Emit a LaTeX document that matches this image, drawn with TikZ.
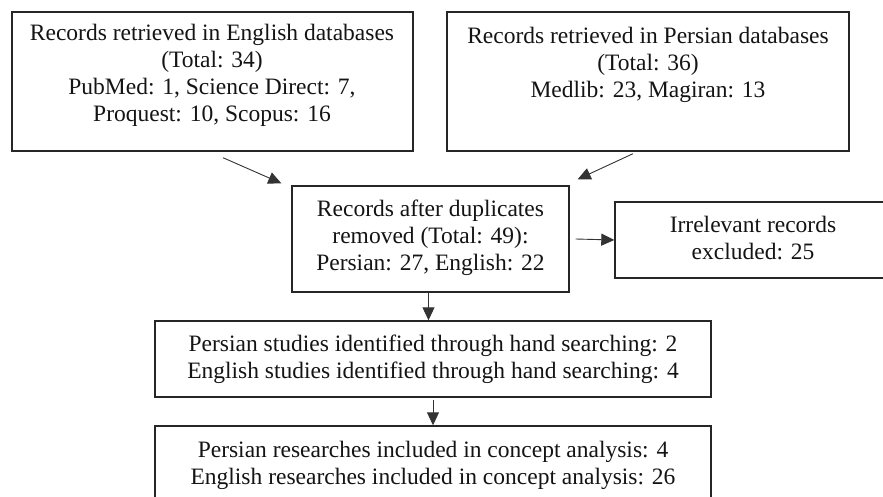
\documentclass[tikz,border=0pt]{standalone}
\usepackage{fontspec}
\setmainfont{Liberation Serif}
\usetikzlibrary{arrows.meta}
\begin{document}
\begin{tikzpicture}[x=1pt,y=-1pt,
  box/.style={draw=black!85, line width=1.4pt, inner sep=0pt},
  txt/.style={align=center, inner sep=0pt, font=\fontsize{23.5}{27}\selectfont, text=black!92},
  arr/.style={draw=black!80, line width=0.9pt, -{Triangle[length=13pt,width=12pt]}}]
\useasboundingbox (0,0) rectangle (883,497);
\clip (0,0) rectangle (883,497);
\fill[white] (0,0) rectangle (883,497);

% boxes
\node[box, minimum width=401pt, minimum height=139pt] (eng) at (212.5,81.5) {};
\node[box, minimum width=402pt, minimum height=139pt] (per) at (648,81.5) {};
\node[box, minimum width=277pt, minimum height=106pt] (dup) at (430.5,239) {};
\node[box, minimum width=400pt, minimum height=76pt] (irr) at (815,240) {};
\node[box, minimum width=556pt, minimum height=76pt] (hand) at (433,359) {};
\node[box, minimum width=556pt, minimum height=76pt] (incl) at (433,464) {};

% texts
\node[txt] (engt) at (212,75.5) {Records retrieved in English databases\\(Total: 34)\\PubMed: 1, Science Direct: 7,\\Proquest: 10, Scopus: 16};
\node[txt] (pert) at (648,65) {Records retrieved in Persian databases\\(Total: 36)\\Medlib: 23, Magiran: 13};
\node[txt] (dupt) at (430.5,238) {Records after duplicates\\removed (Total: 49):\\Persian: 27, English: 22};
\node[txt] (irrt) at (753,238.5) {Irrelevant records\\excluded: 25};
\node[txt] (handt) at (433,359.5) {Persian studies identified through hand searching: 2\\English studies identified through hand searching: 4};
\node[txt] (inclt) at (433,465.5) {Persian researches included in concept analysis: 4\\English researches included in concept analysis: 26};

% connectors
\draw[arr] ([xshift=10.5pt,yshift=-6pt]eng.south) -- ([xshift=-10pt,yshift=2pt]dup.north west);
\draw[arr] ([xshift=-15pt,yshift=-2pt]per.south) -- ([xshift=8pt,yshift=6pt]dup.north east);
\draw[arr] ([xshift=6pt]dup.east) -- (irr.west);
\draw[arr] ([xshift=-2pt]dup.south) -- ([xshift=-2pt]dup.south |- hand.north);
\draw[arr] ([yshift=-2pt]hand.south) -- (incl.north);
\end{tikzpicture}
\end{document}
